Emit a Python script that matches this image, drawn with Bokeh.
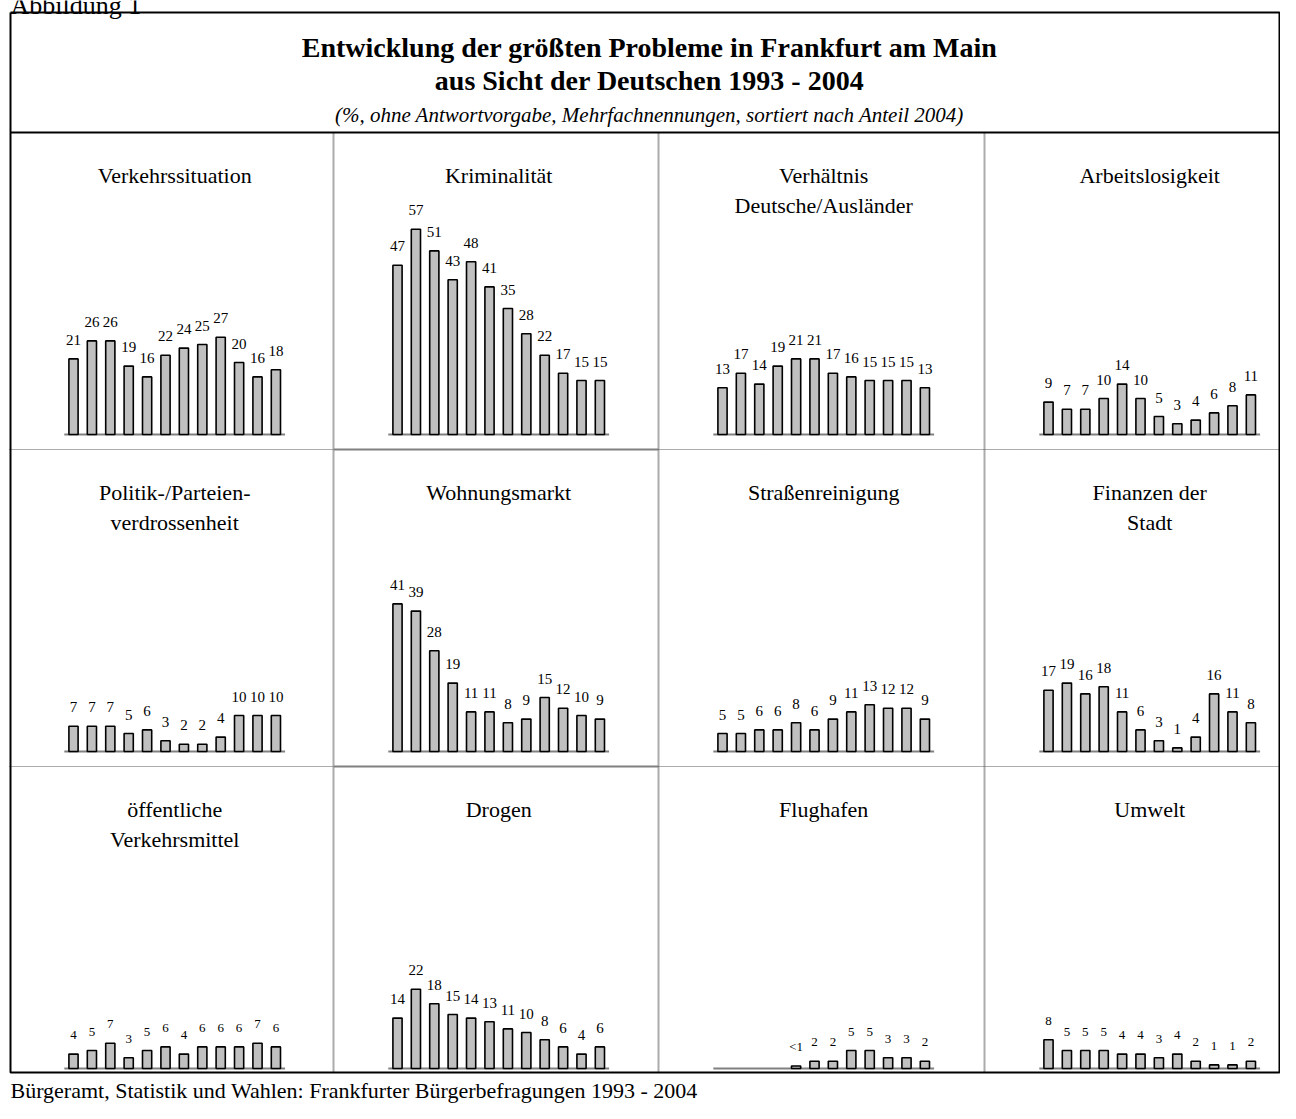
from bokeh.plotting import figure
from bokeh.models import Range1d, ColumnDataSource
from bokeh.embed import file_html
from bokeh.resources import INLINE
from bokeh.core.properties import value

# ---------------- data ----------------
years = [str(y) for y in range(1993, 2005)]

panel_titles = [
    ["Verkehrssituation"],
    ["Kriminalität"],
    ["Verhältnis", "Deutsche/Ausländer"],
    ["Arbeitslosigkeit"],
    ["Politik-/Parteien-", "verdrossenheit"],
    ["Wohnungsmarkt"],
    ["Straßenreinigung"],
    ["Finanzen der", "Stadt"],
    ["öffentliche", "Verkehrsmittel"],
    ["Drogen"],
    ["Flughafen"],
    ["Umwelt"],
]

verkehrssituation = [21, 26, 26, 19, 16, 22, 24, 25, 27, 20, 16, 18]
kriminalitaet = [47, 57, 51, 43, 48, 41, 35, 28, 22, 17, 15, 15]
deutsche_auslaender = [13, 17, 14, 19, 21, 21, 17, 16, 15, 15, 15, 13]
arbeitslosigkeit = [9, 7, 7, 10, 14, 10, 5, 3, 4, 6, 8, 11]
politikverdrossenheit = [7, 7, 7, 5, 6, 3, 2, 2, 4, 10, 10, 10]
wohnungsmarkt = [41, 39, 28, 19, 11, 11, 8, 9, 15, 12, 10, 9]
strassenreinigung = [5, 5, 6, 6, 8, 6, 9, 11, 13, 12, 12, 9]
finanzen = [17, 19, 16, 18, 11, 6, 3, 1, 4, 16, 11, 8]
oepnv = [4, 5, 7, 3, 5, 6, 4, 6, 6, 6, 7, 6]
drogen = [14, 22, 18, 15, 14, 13, 11, 10, 8, 6, 4, 6]
flughafen = [None, None, None, None, 0.7, 2, 2, 5, 5, 3, 3, 2]
umwelt = [8, 5, 5, 5, 4, 4, 3, 4, 2, 1, 1, 2]

flughafen_labels = ["", "", "", "", "<1", "2", "2", "5", "5", "3", "3", "2"]

series = [verkehrssituation, kriminalitaet, deutsche_auslaender, arbeitslosigkeit,
          politikverdrossenheit, wohnungsmarkt, strassenreinigung, finanzen,
          oepnv, drogen, flughafen, umwelt]

title_line1 = "Entwicklung der größten Probleme in Frankfurt am Main"
title_line2 = "aus Sicht der Deutschen 1993 - 2004"
subtitle = "(%, ohne Antwortvorgabe, Mehrfachnennungen, sortiert nach Anteil 2004)"
footer = "Bürgeramt, Statistik und Wahlen: Frankfurter Bürgerbefragungen 1993 - 2004"
figure_label = "Abbildung 1"

# ---------------- layout (pixels) ----------------
W, H = 1280, 1103
PX_X = 18.4     # pixels per year slot
PX_Y = 3.6      # pixels per percent
col_left = [9, 333, 658, 984]
row_top = [132, 449, 766]
BASE_OFF = 302
FIRST_BAR = 64
box_l, box_r, box_t, box_b = 10, 1279, 12, 1072

SERIF = value("Liberation Serif")

p = figure(width=W, height=H, x_range=Range1d(0, W), y_range=Range1d(H, 0),
           x_axis_type=None, y_axis_type=None, toolbar_location=None,
           output_backend="svg", min_border=0, outline_line_color=None,
           background_fill_color="white", border_fill_color="white")
p.grid.visible = False

# per-column / per-row scales
for c, cl in enumerate(col_left):
    start = -(cl + FIRST_BAR) / PX_X
    p.extra_x_ranges[f"c{c}"] = Range1d(start=start, end=start + W / PX_X)
for r, rt in enumerate(row_top):
    b = rt + BASE_OFF
    start = -(H - b) / PX_Y
    p.extra_y_ranges[f"r{r}"] = Range1d(start=start, end=start + H / PX_Y)

# ---------------- frame lines ----------------
for cl in col_left[1:]:
    p.segment(x0=[cl], y0=[row_top[0]], x1=[cl], y1=[box_b],
              line_color="#5a5a5a", line_width=2, line_dash="1 1")
for rt in row_top[1:]:
    for c, cl in enumerate(col_left):
        cr = col_left[c + 1] if c + 1 < len(col_left) else box_r
        if c == 1:
            p.segment(x0=[cl], y0=[rt], x1=[cr], y1=[rt],
                      line_color="#808080", line_width=2)
        else:
            p.segment(x0=[cl], y0=[rt], x1=[cr], y1=[rt],
                      line_color="#5a5a5a", line_width=1.2, line_dash="1 1")
p.multi_line(xs=[[box_l, box_r, box_r, box_l, box_l], [box_l, box_r]],
             ys=[[box_t, box_t, box_b, box_b, box_t], [row_top[0], row_top[0]]],
             line_color="black", line_width=2)

# ---------------- panels ----------------
for k, vals in enumerate(series):
    r, c = divmod(k, 4)
    xr, yr = f"c{c}", f"r{r}"
    idx = [i for i, v in enumerate(vals) if v is not None]
    tops = [vals[i] for i in idx]
    if vals is flughafen:
        labs = [flughafen_labels[i] for i in idx]
    else:
        labs = [str(v) for v in tops]
    src = ColumnDataSource(dict(x=idx, top=tops, lab=labs))
    p.segment(x0=[-0.5], x1=[len(years) - 0.5], y0=[0], y1=[0],
              x_range_name=xr, y_range_name=yr, line_color="#808080", line_width=2)
    p.vbar(x="x", top="top", bottom=0, width=0.5, source=src,
           x_range_name=xr, y_range_name=yr,
           fill_color="#c0c0c0", line_color="black", line_width=1.6)
    fs = "13px" if r == 2 and c != 1 else "15px"
    p.text(x="x", y="top", text="lab", source=src, x_range_name=xr, y_range_name=yr,
           text_align="center", text_baseline="alphabetic", y_offset=-19,
           text_font=SERIF, text_font_size=fs, text_color="black")
    cx = col_left[c] + FIRST_BAR + (len(years) - 1) / 2 * PX_X
    for j, line in enumerate(panel_titles[k]):
        p.text(x=[cx], y=[row_top[r] + 43 + 30 * j], text=[line],
               text_align="center", text_baseline="alphabetic",
               text_font=SERIF, text_font_size="22px", text_color="black")

# ---------------- header / footer texts ----------------
hx = 649
p.text(x=[hx], y=[47], text=[title_line1], text_align="center", text_baseline="alphabetic",
       text_font=SERIF, text_font_size="28px", text_font_style="bold", text_color="black")
p.text(x=[hx], y=[80], text=[title_line2], text_align="center", text_baseline="alphabetic",
       text_font=SERIF, text_font_size="28px", text_font_style="bold", text_color="black")
p.text(x=[hx], y=[114], text=[subtitle], text_align="center", text_baseline="alphabetic",
       text_font=SERIF, text_font_size="21px", text_font_style="italic", text_color="black")
p.text(x=[10], y=[1090], text=[footer], text_align="left", text_baseline="alphabetic",
       text_font=SERIF, text_font_size="22px", text_color="black")
p.text(x=[10], y=[5], text=[figure_label], text_align="left", text_baseline="alphabetic",
       text_font=SERIF, text_font_size="26px", text_color="black")

open("out.html", "w").write(file_html(p, INLINE))
